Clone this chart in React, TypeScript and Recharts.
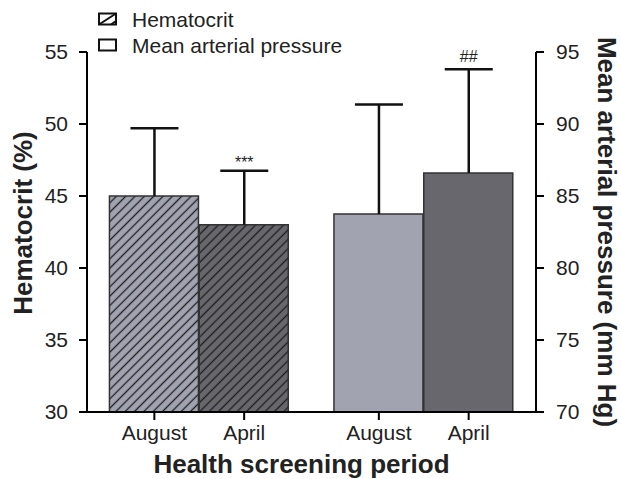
import React from "react";
import {
  ComposedChart,
  Bar,
  XAxis,
  YAxis,
  Cell,
  LabelList,
  Legend,
  Label,
} from "recharts";

// two screening periods, shown once for each measure
const periods = ["August", "April"];

const hematocrit = [45.0, 43.0];
const hematocritSD = [4.7, 3.75];
const hematocritMarks = ["", "***"];

const pressure = [83.75, 86.6];
const pressureSD = [7.6, 7.2];
const pressureMarks = ["", "##"];

const hctTicks = [30, 35, 40, 45, 50, 55];
const mapTicks = [70, 75, 80, 85, 90, 95];

const shades = ["#a2a3b1", "#67676d"];
const ink = "#222";
const font = "Arial, 'Liberation Sans', Helvetica, sans-serif";

// slot layout on a 0..5 numeric axis: two adjacent bars, half-slot gap, two more
const slot = (group: number, i: number) => group * 2.5 + i + 0.75;

const rows = [
  ...periods.map((period, i) => ({
    pos: slot(0, i),
    period,
    shade: i,
    hct: hematocrit[i],
    hctRange: [hematocrit[i], hematocrit[i] + hematocritSD[i]],
    hctMark: hematocritMarks[i],
  })),
  ...periods.map((period, i) => ({
    pos: slot(1, i),
    period,
    shade: i,
    map: pressure[i],
    mapRange: [pressure[i], pressure[i] + pressureSD[i]],
    mapMark: pressureMarks[i],
  })),
];

const tickPositions = rows.map((r) => r.pos);
const tickLabel = (v: number) => rows.find((r) => r.pos === v)?.period ?? "";

// upper-only error whisker: stem from the mean up to mean+SD, cap on top
const Whisker = (props: any) => {
  const { x, y, width, height } = props;
  if (!Number.isFinite(y) || !height) return <g />;
  const mid = x + width / 2;
  return (
    <g stroke="#111" strokeWidth={2.5}>
      <line x1={mid} y1={y} x2={mid} y2={y + height} />
      <line x1={x} y1={y} x2={x + width} y2={y} />
    </g>
  );
};

const LegendBox = () => (
  <div style={{ fontSize: 21, color: ink, lineHeight: "26px", fontFamily: font }}>
    {["Hematocrit", "Mean arterial pressure"].map((name, i) => (
      <div key={name} style={{ position: "relative", height: 26, paddingLeft: 36 }}>
        <svg width={24} height={16} style={{ position: "absolute", left: 0, top: 5 }}>
          <rect x={3} y={1.5} width={17} height={11} fill="#fff" stroke="#111" strokeWidth={2} />
          {i === 0 && (
            <>
              <line x1={3} y1={12.5} x2={20} y2={1.5} stroke="#111" strokeWidth={2} />
              <line x1={15} y1={12.5} x2={20} y2={9} stroke="#111" strokeWidth={2} />
            </>
          )}
        </svg>
        {name}
      </div>
    ))}
  </div>
);

const titleStyle = { fontSize: 26, fontWeight: 700, fill: ink, fontFamily: font };
const axisStroke = { stroke: "#000", strokeWidth: 2 };
const tickText = { fill: ink, fontSize: 21, fontFamily: font };

export default function App() {
  return (
    <div
      style={{
        position: "absolute",
        left: 0,
        top: 0,
        width: 621,
        height: 479,
        background: "#fff",
        fontFamily: font,
      }}
    >
      <ComposedChart width={621} height={479} data={rows} margin={{ top: 52, right: 0, bottom: 0, left: 0 }}>
        <defs>
          {shades.map((c, i) => (
            <pattern
              key={c}
              id={`hatch-${i}`}
              patternUnits="userSpaceOnUse"
              width={6.6}
              height={6.6}
              patternTransform="rotate(45)"
            >
              <rect width={6.6} height={6.6} fill={c} />
              <line x1={3.3} y1={0} x2={3.3} y2={6.6} stroke="#1e1e1e" strokeWidth={1.3} />
            </pattern>
          ))}
        </defs>
        <XAxis
          xAxisId="h"
          dataKey="pos"
          type="number"
          domain={[0, 5]}
          ticks={tickPositions}
          interval={0}
          tickFormatter={tickLabel}
          height={67}
          tickSize={8}
          tickMargin={5}
          axisLine={axisStroke}
          tickLine={axisStroke}
          tick={tickText}
        >
          <Label
            content={({ viewBox }: any) => (
              <text x={viewBox.x + viewBox.width / 2 - 10} y={viewBox.y + 61} textAnchor="middle" style={titleStyle}>
                Health screening period
              </text>
            )}
          />
        </XAxis>
        <XAxis xAxisId="m" dataKey="pos" type="number" domain={[0, 5]} hide />
        <XAxis xAxisId="he" dataKey="pos" type="number" domain={[0, 5]} hide />
        <XAxis xAxisId="me" dataKey="pos" type="number" domain={[0, 5]} hide />
        <YAxis
          yAxisId="left"
          domain={[30, 55]}
          ticks={hctTicks}
          width={87}
          tickSize={8}
          tickMargin={11}
          axisLine={axisStroke}
          tickLine={axisStroke}
          tick={tickText}
        >
          <Label
            content={({ viewBox }: any) => {
              const cx = viewBox.x + 23;
              const cy = viewBox.y + viewBox.height / 2 - 9;
              return (
                <text
                  x={cx}
                  y={cy}
                  transform={`rotate(-90 ${cx} ${cy})`}
                  textAnchor="middle"
                  dominantBaseline="central"
                  style={titleStyle}
                >
                  Hematocrit (%)
                </text>
              );
            }}
          />
        </YAxis>
        <YAxis
          yAxisId="right"
          orientation="right"
          domain={[70, 95]}
          ticks={mapTicks}
          width={85}
          tickSize={8}
          tickMargin={12}
          axisLine={axisStroke}
          tickLine={axisStroke}
          tick={tickText}
        >
          <Label
            content={({ viewBox }: any) => {
              const cx = viewBox.x + 71;
              const cy = viewBox.y + viewBox.height / 2;
              return (
                <text
                  x={cx}
                  y={cy}
                  transform={`rotate(90 ${cx} ${cy})`}
                  textAnchor="middle"
                  dominantBaseline="central"
                  style={titleStyle}
                >
                  Mean arterial pressure (mm Hg)
                </text>
              );
            }}
          />
        </YAxis>
        <Legend
          layout="vertical"
          align="center"
          verticalAlign="middle"
          content={<LegendBox />}
          wrapperStyle={{ left: 96, top: 7, width: 320 }}
        />
        <Bar
          xAxisId="h"
          yAxisId="left"
          dataKey="hct"
          barSize={89}
          stroke="#333"
          strokeWidth={1.5}
          isAnimationActive={false}
        >
          {rows.map((r) => (
            <Cell key={`h${r.pos}`} fill={`url(#hatch-${r.shade})`} />
          ))}
        </Bar>
        <Bar
          xAxisId="m"
          yAxisId="right"
          dataKey="map"
          barSize={89}
          stroke="#333"
          strokeWidth={1.5}
          isAnimationActive={false}
        >
          {rows.map((r) => (
            <Cell key={`m${r.pos}`} fill={shades[r.shade]} />
          ))}
        </Bar>
        <Bar
          xAxisId="he"
          yAxisId="left"
          dataKey="hctRange"
          barSize={48}
          shape={<Whisker />}
          isAnimationActive={false}
        >
          <LabelList dataKey="hctMark" position="top" offset={3} fill={ink} fontSize={16} fontFamily={font} />
        </Bar>
        <Bar
          xAxisId="me"
          yAxisId="right"
          dataKey="mapRange"
          barSize={48}
          shape={<Whisker />}
          isAnimationActive={false}
        >
          <LabelList dataKey="mapMark" position="top" offset={7} fill={ink} fontSize={16} fontFamily={font} />
        </Bar>
      </ComposedChart>
    </div>
  );
}
